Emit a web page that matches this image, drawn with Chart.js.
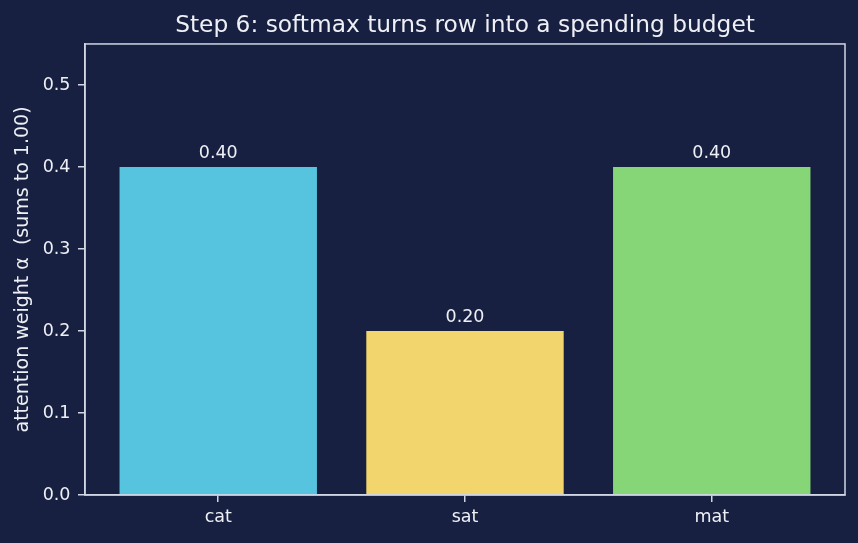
<!DOCTYPE html>
<html>
<head>
<meta charset="utf-8">
<script src="https://cdn.jsdelivr.net/npm/chart.js@4"></script>
<style>
  html, body { margin: 0; padding: 0; background: #172040; }
  canvas { display: block; }
</style>
</head>
<body>
<canvas id="c" width="858" height="543"></canvas>
<script>
const categories = ["cat", "sat", "mat"];
const weights = [0.40, 0.20, 0.40];
const barColors = ["#57c4df", "#f2d56c", "#86d577"];
const yTicks = [0.0, 0.1, 0.2, 0.3, 0.4, 0.5];

const BG = "#172040";
const TEXT = "#eef0f6";
const AXIS = "#d0d6e4";
const FONT = "'DejaVu Sans', sans-serif";

const bgPlugin = {
  id: "bg",
  beforeDraw(chart) {
    const ctx = chart.ctx;
    ctx.save();
    ctx.fillStyle = BG;
    ctx.fillRect(0, 0, chart.width, chart.height);
    ctx.restore();
  }
};

const framePlugin = {
  id: "frame",
  afterDraw(chart) {
    const a = chart.chartArea;
    const ctx = chart.ctx;
    ctx.save();
    ctx.strokeStyle = AXIS;
    ctx.lineWidth = 1.5;
    ctx.strokeRect(a.left, a.top, a.right - a.left, a.bottom - a.top);
    ctx.restore();
  }
};

const labelPlugin = {
  id: "barLabels",
  afterDatasetsDraw(chart) {
    const ctx = chart.ctx;
    const meta = chart.getDatasetMeta(0);
    ctx.save();
    ctx.fillStyle = TEXT;
    ctx.font = "17.5px " + FONT;
    ctx.textAlign = "center";
    ctx.textBaseline = "bottom";
    meta.data.forEach((bar, i) => {
      ctx.fillText(weights[i].toFixed(2), bar.x, bar.y - 5);
    });
    ctx.restore();
  }
};

new Chart(document.getElementById("c"), {
  type: "bar",
  data: {
    datasets: [{
      data: weights.map((v, i) => ({ x: i, y: v })),
      backgroundColor: barColors,
      borderWidth: 0,
      barPercentage: 0.8,
      categoryPercentage: 1.0
    }]
  },
  options: {
    responsive: false,
    animation: false,
    devicePixelRatio: 1,
    layout: { padding: { left: 0, right: 13, top: 0, bottom: 0 } },
    plugins: {
      legend: { display: false },
      tooltip: { enabled: false },
      title: {
        display: true,
        text: "Step 6: softmax turns row into a spending budget",
        color: TEXT,
        fullSize: false,
        font: { family: FONT, size: 23.3, weight: "normal" },
        padding: { top: 12, bottom: 4.0 }
      }
    },
    scales: {
      x: {
        type: "linear",
        offset: false,
        min: -0.54,
        max: 2.54,
        afterBuildTicks(scale) {
          scale.ticks = categories.map((c, i) => ({ value: i }));
        },
        afterFit(scale) { scale.height = 48; },
        ticks: {
          color: TEXT,
          font: { family: FONT, size: 17.5 },
          padding: 5,
          maxRotation: 0,
          autoSkip: false,
          callback: (v) => categories[v] ?? ""
        },
        grid: {
          offset: false,
          drawOnChartArea: false,
          drawTicks: true,
          tickLength: 7,
          color: AXIS,
          lineWidth: 1.5
        },
        border: { display: true, color: AXIS, width: 1.5 }
      },
      y: {
        type: "linear",
        min: 0,
        max: 0.55,
        afterBuildTicks(scale) {
          scale.ticks = yTicks.map(v => ({ value: v }));
        },
        afterFit(scale) { scale.width = 85; },
        ticks: {
          color: TEXT,
          font: { family: FONT, size: 17.5 },
          padding: 7.5,
          callback: (v) => Number(v).toFixed(1)
        },
        grid: {
          drawOnChartArea: false,
          drawTicks: true,
          tickLength: 7,
          color: AXIS,
          lineWidth: 1.5
        },
        border: { display: true, color: AXIS, width: 1.5 },
        title: {
          display: true,
          text: "attention weight α  (sums to 1.00)",
          color: TEXT,
          font: { family: FONT, size: 19 },
          padding: { top: 12, bottom: 0 }
        }
      }
    }
  },
  plugins: [bgPlugin, framePlugin, labelPlugin]
});
</script>
</body>
</html>
